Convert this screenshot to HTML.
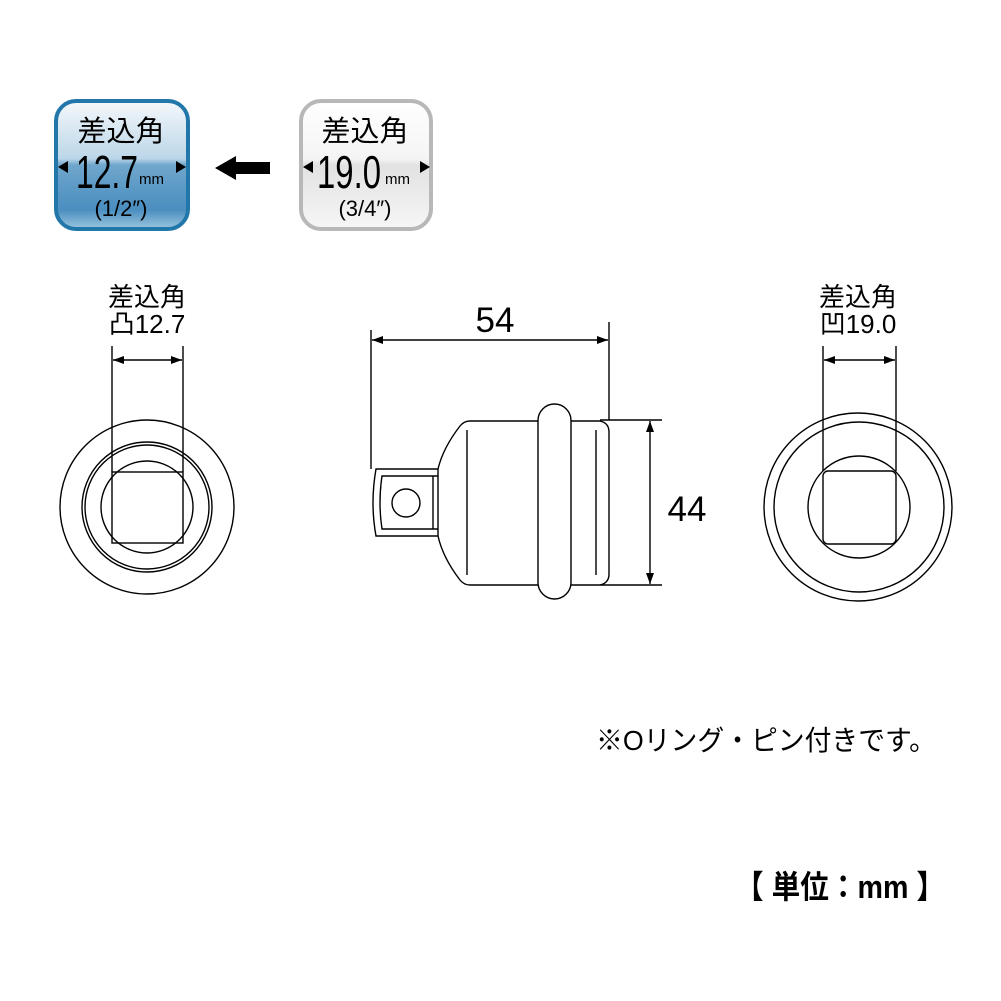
<!DOCTYPE html>
<html><head><meta charset="utf-8"><style>html,body{margin:0;padding:0;background:#fff}svg{display:block}</style></head><body>
<svg width="1001" height="1001" viewBox="0 0 1001 1001" xmlns="http://www.w3.org/2000/svg" font-family="'Liberation Sans','Noto Sans CJK JP',sans-serif">
<defs>
<linearGradient id="gb" x1="0" y1="0" x2="0" y2="1">
<stop offset="0" stop-color="#f4f8fb"/><stop offset="0.45" stop-color="#bcd6e8"/><stop offset="0.5" stop-color="#6fa6cc"/><stop offset="0.85" stop-color="#4a8ec0"/><stop offset="1" stop-color="#9cc6df"/></linearGradient>
<linearGradient id="gg" x1="0" y1="0" x2="0" y2="1">
<stop offset="0" stop-color="#ffffff"/><stop offset="0.45" stop-color="#f4f4f4"/><stop offset="0.5" stop-color="#e2e2e2"/><stop offset="1" stop-color="#f6f6f6"/></linearGradient>
</defs>
<rect x="56" y="101" width="132" height="128" rx="20" fill="url(#gb)" stroke="#2277aa" stroke-width="4"/>
<rect x="301" y="101" width="130" height="128" rx="20" fill="url(#gg)" stroke="#b8b8b8" stroke-width="4"/>
<text x="121" y="141" font-size="29" text-anchor="middle">差込角</text>
<text x="76" y="188" font-size="46" textLength="62" lengthAdjust="spacingAndGlyphs">12.7</text>
<text x="139" y="184" font-size="15">mm</text>
<polygon points="58,167 68,161 68,173"/><polygon points="186,167 176,161 176,173"/>
<text x="121" y="216" font-size="22" text-anchor="middle">(1/2″)</text>
<text x="365" y="141" font-size="29" text-anchor="middle">差込角</text>
<text x="317" y="188" font-size="46" textLength="64" lengthAdjust="spacingAndGlyphs">19.0</text>
<text x="385" y="184" font-size="15">mm</text>
<polygon points="303,167 313,161 313,173"/><polygon points="430,167 420,161 420,173"/>
<text x="365" y="216" font-size="22" text-anchor="middle">(3/4″)</text>
<polygon points="215,168 236,156 236,162 270,162 270,174 236,174 236,180"/>

<g fill="none" stroke="#000" stroke-width="1.4">
<circle cx="147" cy="507" r="87"/>
<circle cx="147" cy="507" r="65"/><circle cx="147" cy="507" r="62"/>
<circle cx="147" cy="507" r="46"/>
<rect x="112" y="472" width="71" height="71"/>
<line x1="112" y1="346" x2="112" y2="472"/><line x1="183" y1="346" x2="183" y2="472"/>
<line x1="113" y1="360" x2="182" y2="360"/>
<circle cx="858" cy="507" r="94"/>
<circle cx="859" cy="507" r="85"/>
<circle cx="859" cy="507" r="51"/>
<rect x="823" y="471" width="73" height="73" rx="5"/>
<line x1="823" y1="346" x2="823" y2="471"/><line x1="896" y1="346" x2="896" y2="471"/>
<line x1="824" y1="360" x2="895" y2="360"/>
<line x1="371" y1="330" x2="371" y2="469"/><line x1="609" y1="322" x2="609" y2="420"/>
<line x1="372" y1="340" x2="608" y2="340"/>
<path d="M438,469 L376,469 Q370,503 376,536 L438,536"/>
<path d="M438,476 L382,476 Q378,503 382,529 L438,529"/>
<line x1="433" y1="476" x2="433" y2="529"/>
<circle cx="406" cy="503" r="14"/>
<path d="M438,469 L438,536 M438,469 Q443,448 460,426 Q464,421 470,421 L538,421 M538,585 L470,585 Q464,585 460,580 Q443,558 438,536"/>
<path d="M571,421 L600,421 Q609,423 609,432 L609,574 Q609,583 600,585 L571,585"/>
<rect x="538" y="404" width="33" height="195" rx="16.5"/>
<line x1="467" y1="430" x2="467" y2="575"/><line x1="596" y1="430" x2="596" y2="575"/>
<line x1="600" y1="420" x2="662" y2="420"/><line x1="600" y1="585" x2="662" y2="585"/>
<line x1="650" y1="421" x2="650" y2="584"/>
</g>
<g fill="#000">
<polygon points="113,360 124,356 124,364"/><polygon points="182,360 171,356 171,364"/>
<polygon points="824,360 835,356 835,364"/><polygon points="895,360 884,356 884,364"/>
<polygon points="372,340 383,336 383,344"/><polygon points="608,340 597,336 597,344"/>
<polygon points="650,421 646,432 654,432"/><polygon points="650,584 646,573 654,573"/>
</g>
<text x="147" y="306" font-size="26" text-anchor="middle">差込角</text>
<text x="147" y="333" font-size="26" text-anchor="middle">凸12.7</text>
<text x="858" y="306" font-size="26" text-anchor="middle">差込角</text>
<text x="858" y="333" font-size="26" text-anchor="middle">凹19.0</text>
<text x="495" y="332" font-size="35" text-anchor="middle">54</text>
<text x="687" y="521" font-size="35" text-anchor="middle">44</text>
<text x="596" y="750" font-size="28" textLength="340" lengthAdjust="spacingAndGlyphs">※Oリング・ピン付きです。</text>
<text x="735" y="898" font-size="32" font-weight="bold" textLength="210" lengthAdjust="spacingAndGlyphs">【 単位：mm 】</text>
</svg>
</body></html>
